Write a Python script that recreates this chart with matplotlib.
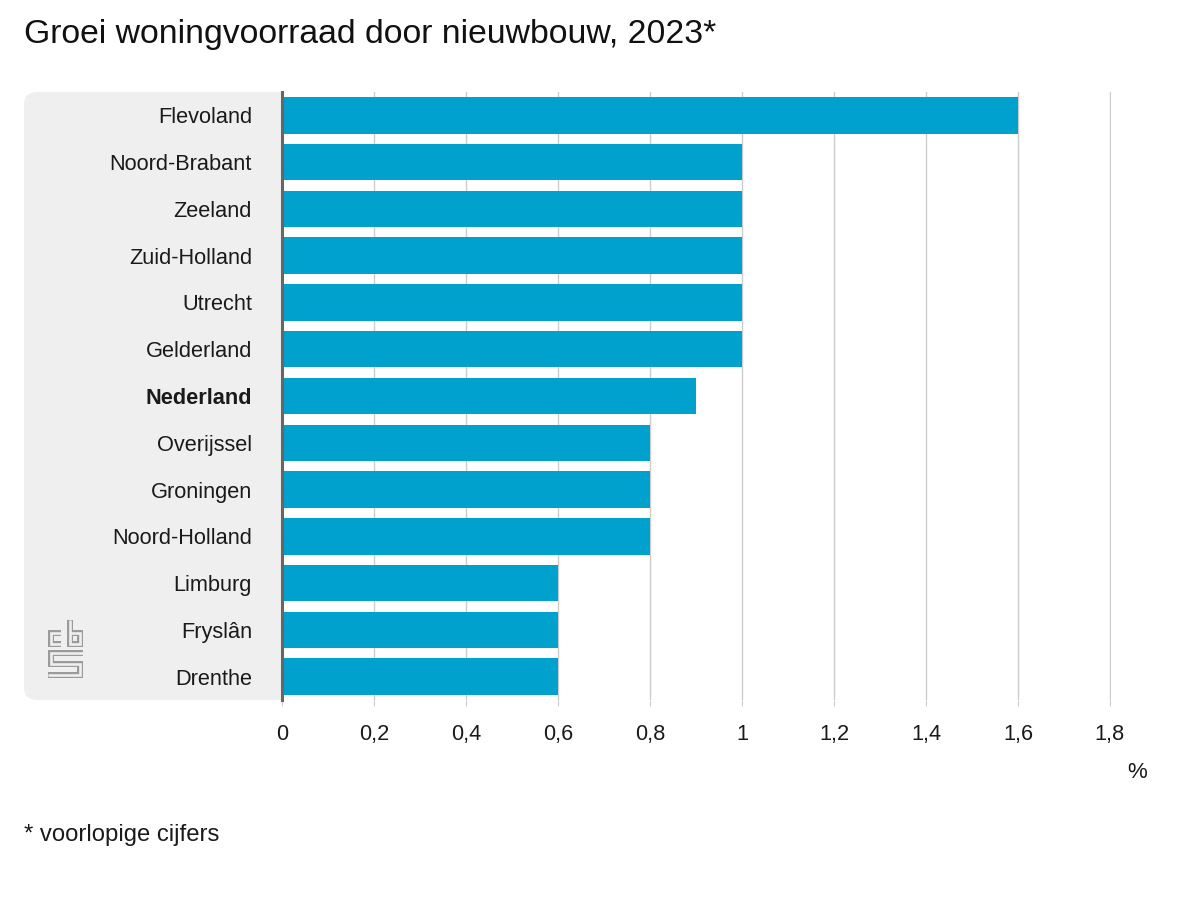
import matplotlib
matplotlib.use("Agg")
import matplotlib.pyplot as plt
from matplotlib.patches import FancyBboxPatch
from matplotlib.lines import Line2D

plt.rcParams.update({
    "font.family": ["Liberation Sans", "DejaVu Sans"],
    "font.size": 15.7,
})

provinces = ["Flevoland", "Noord-Brabant", "Zeeland", "Zuid-Holland", "Utrecht",
             "Gelderland", "Nederland", "Overijssel", "Groningen", "Noord-Holland",
             "Limburg", "Fryslân", "Drenthe"]
growth = [1.6, 1.0, 1.0, 1.0, 1.0, 1.0, 0.9, 0.8, 0.8, 0.8, 0.6, 0.6, 0.6]
xticks = [0, 0.2, 0.4, 0.6, 0.8, 1.0, 1.2, 1.4, 1.6, 1.8]
xtick_labels = ["0", "0,2", "0,4", "0,6", "0,8", "1", "1,2", "1,4", "1,6", "1,8"]

W, H = 1200, 900
fig = plt.figure(figsize=(12, 9), dpi=100)

def fx(px):
    return px / W

def fy(py):
    return 1 - py / H

# axes in pixel box: left 282, right 1110, top 92, bottom 700
ax = fig.add_axes([fx(282), fy(700), fx(1111) - fx(282), fy(92) - fy(700)])
ax.set_zorder(2)
ax.set_facecolor("white")

# grey label panel behind the category names
panel = FancyBboxPatch((fx(24), fy(700)), fx(300) - fx(24), fy(92) - fy(700),
                       boxstyle="round,pad=0,rounding_size=0.011",
                       transform=fig.transFigure, facecolor="#efefef",
                       edgecolor="none", zorder=0, mutation_aspect=1.33)
fig.patches.append(panel)

ypos = list(range(len(provinces)))
ax.barh(ypos, growth, height=0.78, color="#00a1cd", zorder=3)
ax.set_ylim(len(provinces) - 0.5, -0.5)
ax.set_xlim(0, 1.8 * 829 / 828)

ax.set_yticks(ypos)
ax.set_yticklabels(provinces)
for lbl in ax.get_yticklabels():
    lbl.set_color("#1a1a1a")
    if lbl.get_text() == "Nederland":
        lbl.set_fontweight("bold")
ax.tick_params(axis="y", length=0, pad=21.6, labelsize=15.7)

ax.set_xticks(xticks)
ax.set_xticklabels(xtick_labels)
ax.tick_params(axis="x", length=4, color="#cccccc", pad=13, labelsize=15.7,
               labelcolor="#1a1a1a")
ax.grid(axis="x", color="#cccccc", linewidth=1, zorder=1)
ax.set_axisbelow(True)

for s in ["top", "right", "bottom"]:
    ax.spines[s].set_visible(False)
ax.spines["left"].set_color("#666666")
ax.spines["left"].set_linewidth(2.2)
ax.spines["left"].set_zorder(4)

fig.text(fx(24), fy(35), "Groei woningvoorraad door nieuwbouw, 2023*",
         fontsize=24.3, ha="left", va="center", color="#111111")
fig.text(fx(1137), fy(773), "%", fontsize=16, ha="center", va="center",
         color="#1a1a1a")
fig.text(fx(24), fy(835), "* voorlopige cijfers", fontsize=17.2, ha="left",
         va="center", color="#1a1a1a")

# simple cbs logo, drawn as outlined strokes
logo = [
    [(61, 633), (51, 633), (51, 644), (61, 644)],
    [(70, 620), (70, 644), (80, 644), (80, 633), (70, 633)],
    [(83, 653), (51, 653), (51, 664), (80, 664), (80, 675), (48, 675)],
]
for path in logo:
    xs = [fx(p[0]) for p in path]
    ys = [fy(p[1]) for p in path]
    fig.add_artist(Line2D(xs, ys, transform=fig.transFigure, color="#9a9a9a",
                          linewidth=4.3, solid_capstyle="butt",
                          solid_joinstyle="miter", zorder=1))
    fig.add_artist(Line2D(xs, ys, transform=fig.transFigure, color="#efefef",
                          linewidth=1.9, solid_capstyle="butt",
                          solid_joinstyle="miter", zorder=1.1))

fig.savefig("out.png", dpi=100)
